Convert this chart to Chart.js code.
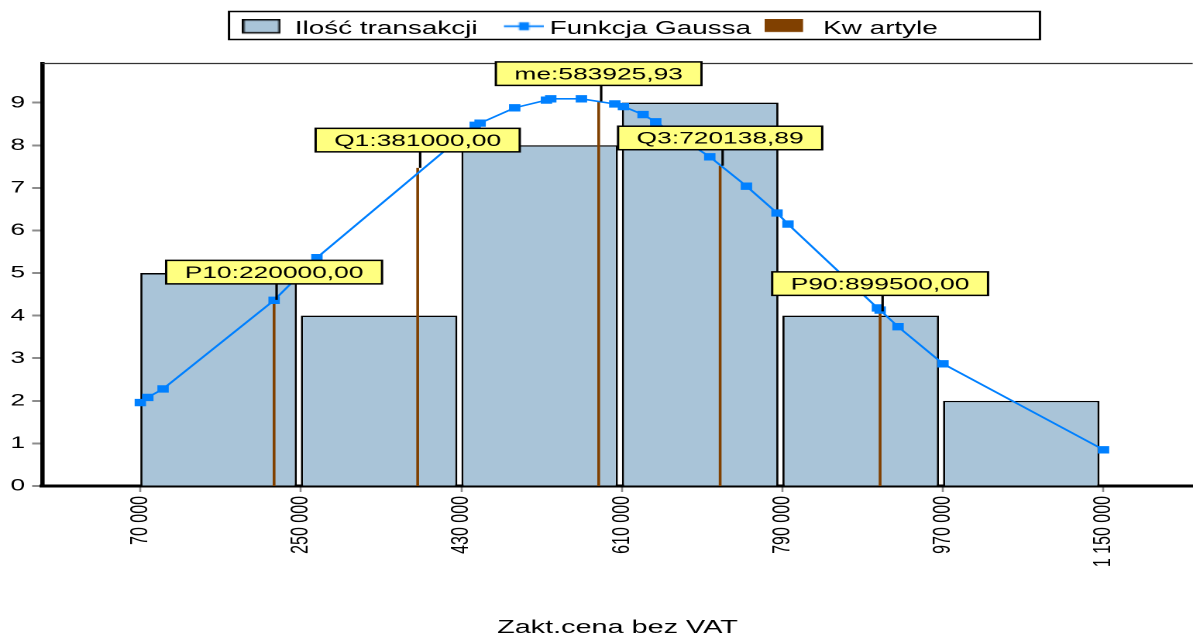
<!DOCTYPE html>
<html><head><meta charset="utf-8">
<script src="https://cdn.jsdelivr.net/npm/chart.js@4.4.1/dist/chart.umd.min.js"></script>
<style>
html,body{margin:0;padding:0;background:#fff;overflow:hidden;}
#wrap{width:1193px;height:635px;overflow:hidden;position:relative;background:#fff;}
#c{position:absolute;left:0;top:0;transform-origin:0 0;transform:scaleX(1.549351);}
</style></head><body>
<div id="wrap"><canvas id="c" width="775" height="640"></canvas></div>
<script>
// ---------------- data ----------------
const seriesNames = ['Ilość transakcji', 'Funkcja Gaussa', 'Kw artyle'];
const xTitle = 'Zakt.cena bez VAT';
const binStarts = [70000, 250000, 430000, 610000, 790000, 970000];
const binWidth = 180000;
const counts = [5, 4, 8, 9, 4, 2];
const xTickValues = [70000, 250000, 430000, 610000, 790000, 970000, 1150000];
const yTickValues = [0, 1, 2, 3, 4, 5, 6, 7, 8, 9];
const gaussX = [70000, 78400, 95500, 220000, 268000, 445500, 451000, 489800, 525400, 530200, 564600, 602000, 611700, 633700, 647900, 708500, 749600, 783900, 796200, 896500, 899500, 919600, 970000, 1150000];
const gaussY = [1.96, 2.08, 2.28, 4.36, 5.36, 8.47, 8.52, 8.88, 9.06, 9.09, 9.09, 8.97, 8.91, 8.72, 8.55, 7.73, 7.04, 6.41, 6.15, 4.18, 4.13, 3.74, 2.87, 0.85];
const quartileNames = ['P10', 'Q1', 'me', 'Q3', 'P90'];
const quartileValues = [220000, 381000, 583925.93, 720138.89, 899500];
const quartileHeights = [4.37, 7.47, 9.03, 7.52, 4.10];

// ---------------- style ----------------
const FONT = "'Liberation Sans', Arial, sans-serif";
Chart.defaults.font.family = FONT;
Chart.defaults.color = '#000';
const BAR_COLOR = 'rgb(169,196,216)';
const BLUE = '#0080FF';
const BROWN = '#804000';
const BAR_FILL = 0.975;

const fmtThousands = v => String(v).replace(/\B(?=(\d{3})+(?!\d))/g, ' ');
const fmtDec = v => v.toFixed(2).replace('.', ',');

const barData = binStarts.map((s, i) => ({ x: s + binWidth * BAR_FILL / 2, y: counts[i] }));
const gaussData = gaussX.map((x, i) => ({ x, y: gaussY[i] }));
const quartData = [];
quartileValues.forEach((v, i) => { quartData.push({ x: v, y: 0 }, { x: v, y: quartileHeights[i] }, { x: v, y: null }); });

function makeIcon(w, h, draw) {
  const c = document.createElement('canvas'); c.width = w; c.height = h;
  draw(c.getContext('2d')); return c;
}
const legendIcons = [
  makeIcon(25, 20, g => { g.fillStyle = BAR_COLOR; g.fillRect(0.75, 0.75, 23.5, 13); g.strokeStyle = '#000'; g.lineWidth = 1.5; g.strokeRect(0.75, 0.75, 23.5, 13); }),
  makeIcon(36, 20, g => { g.strokeStyle = BLUE; g.lineWidth = 1.8; g.beginPath(); g.moveTo(10, 7.3); g.lineTo(36, 7.3); g.stroke(); g.fillStyle = BLUE; g.fillRect(23 - 3.3, 7.3 - 4, 6.6, 8); }),
  makeIcon(33, 20, g => { g.fillStyle = BROWN; g.fillRect(0, 0, 25, 13); })
];

const LEGEND_X = 156.2, LEGEND_CY = 29;

const decor = {
  id: 'decor',
  afterLayout(chart) {
    const lg = chart.legend;
    const pad = lg.options.labels.padding;
    lg.left = LEGEND_X - pad;
    lg.top = LEGEND_CY - 9 - pad;
  },
  beforeDatasetsDraw(chart) {
    const { ctx, chartArea: a } = chart;
    ctx.save();
    ctx.strokeStyle = '#333'; ctx.lineWidth = 1.2;
    ctx.beginPath(); ctx.moveTo(a.left, a.top); ctx.lineTo(a.right, a.top); ctx.stroke();
    ctx.restore();
  },
  afterDatasetsDraw(chart) {
    const { ctx, scales: { x, y } } = chart;
    ctx.save();
    ctx.font = '17px ' + FONT;
    quartileValues.forEach((v, i) => {
      const px = x.getPixelForValue(v);
      const top = y.getPixelForValue(quartileHeights[i]);
      const text = quartileNames[i] + ':' + fmtDec(v);
      const tw = ctx.measureText(text).width;
      const bw = tw + 24, bh = 23.5;
      const bBottom = top - 16, bTop = bBottom - bh;
      ctx.strokeStyle = '#000'; ctx.lineWidth = 1.6;
      ctx.beginPath(); ctx.moveTo(px + 1.6, top); ctx.lineTo(px + 1.6, bBottom); ctx.stroke();
      ctx.fillStyle = '#FFFF80'; ctx.fillRect(px - bw / 2, bTop, bw, bh);
      ctx.lineWidth = 1.5; ctx.strokeStyle = '#000'; ctx.strokeRect(px - bw / 2, bTop, bw, bh);
      ctx.fillStyle = '#000'; ctx.textAlign = 'center'; ctx.textBaseline = 'middle';
      ctx.fillText(text, px, bTop + bh / 2 + 1);
    });
    ctx.restore();
  },
  afterDraw(chart) {
    const { ctx } = chart;
    ctx.save();
    ctx.strokeStyle = '#000'; ctx.lineWidth = 1.5;
    ctx.strokeRect(147.8, 11.5, 671.2 - 147.8, 28);
    ctx.restore();
  }
};

new Chart(document.getElementById('c'), {
  type: 'bar',
  data: {
    datasets: [
      { type: 'bar', label: seriesNames[0], data: barData, backgroundColor: BAR_COLOR, borderColor: '#000', borderWidth: 1.4,
        categoryPercentage: 1, barPercentage: BAR_FILL, order: 3 },
      { type: 'line', label: seriesNames[1], data: gaussData, borderColor: BLUE, backgroundColor: BLUE, borderWidth: 1.6,
        pointStyle: 'rect', pointRadius: 5.2, pointBackgroundColor: BLUE, pointBorderColor: BLUE, pointBorderWidth: 0, tension: 0, fill: false, order: 1 },
      { type: 'line', label: seriesNames[2], data: quartData, borderColor: BROWN, backgroundColor: BROWN, borderWidth: 1.8,
        pointRadius: 0, spanGaps: false, fill: false, borderCapStyle: 'butt', order: 2 }
    ]
  },
  options: {
    responsive: false,
    devicePixelRatio: 2,
    animation: false,
    events: [],
    layout: { padding: { top: 23, left: 0, right: 0, bottom: 0 } },
    plugins: {
      tooltip: { enabled: false },
      title: { display: false },
      legend: {
        display: true, position: 'top', align: 'start',
        labels: {
          usePointStyle: true, pointStyleWidth: 25, padding: 12.5,
          font: { size: 18 }, color: '#000',
          sort: (a, b) => a.datasetIndex - b.datasetIndex,
          generateLabels: chart => Chart.defaults.plugins.legend.labels.generateLabels(chart)
            .map(it => Object.assign(it, { pointStyle: legendIcons[it.datasetIndex] }))
        }
      }
    },
    scales: {
      x: {
        type: 'linear', min: -40000, max: 1250000, offset: false,
        afterBuildTicks: s => { s.ticks = xTickValues.map(v => ({ value: v })); },
        afterFit: s => { s.height = 154; s.paddingLeft = 0; s.paddingRight = 0; },
        ticks: { autoSkip: false, minRotation: 90, maxRotation: 90, padding: 4, font: { size: 16 }, color: '#000',
          callback: v => fmtThousands(v) },
        grid: { display: true, drawOnChartArea: false, drawTicks: true, tickLength: 6, tickColor: '#8c8c8c', tickWidth: 1.3, offset: false },
        border: { display: true, color: '#000', width: 3 },
        title: { display: true, text: xTitle, font: { size: 18.6 }, color: '#000', padding: { top: 0, bottom: 1 } }
      },
      y: {
        type: 'linear', min: 0, max: 9.92,
        afterBuildTicks: s => { s.ticks = yTickValues.map(v => ({ value: v })); },
        afterFit: s => { s.width = 27.24; s.paddingTop = 0; s.paddingBottom = 0; },
        ticks: { padding: 4.5, font: { size: 17 }, color: '#000', callback: v => String(v) },
        grid: { display: true, drawOnChartArea: false, drawTicks: true, tickLength: 6.5, tickColor: '#8c8c8c', tickWidth: 2 },
        border: { display: true, color: '#000', width: 2.8 }
      }
    }
  },
  plugins: [decor]
});
</script></body></html>
